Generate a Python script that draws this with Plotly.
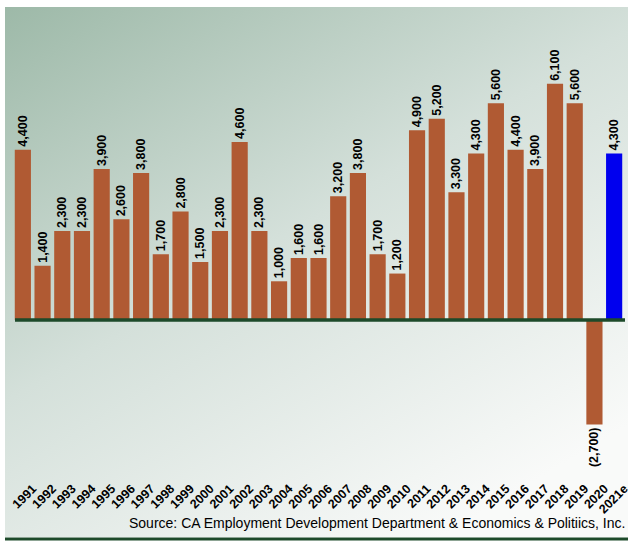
import base64
import plotly.graph_objects as go

years = ["1991", "1992", "1993", "1994", "1995", "1996", "1997", "1998", "1999", "2000",
         "2001", "2002", "2003", "2004", "2005", "2006", "2007", "2008", "2009", "2010",
         "2011", "2012", "2013", "2014", "2015", "2016", "2017", "2018", "2019", "2020",
         "2021e"]
jobs = [4400, 1400, 2300, 2300, 3900, 2600, 3800, 1700, 2800, 1500,
        2300, 4600, 2300, 1000, 1600, 1600, 3200, 3800, 1700, 1200,
        4900, 5200, 3300, 4300, 5600, 4400, 3900, 6100, 5600, -2700,
        4300]
source_note = "Source: CA Employment Development Department & Economics & Politiics, Inc."

W, H = 631, 542
L, R, T, B = 13, 7, 20, 102
plotW, plotH = W - L - R, H - T - B

def px2x(p):
    return (p - L) / plotW

def px2y(p):
    return (H - B - p) / plotH

labels = ["({:,})".format(-v) if v < 0 else "{:,}".format(v) for v in jobs]
colors = ["#0000ee" if y.endswith("e") else "#b05a33" for y in years]

# gradient background as svg
svg = ('<svg xmlns="http://www.w3.org/2000/svg" width="620" height="530" viewBox="0 0 620 530" '
       'preserveAspectRatio="none"><defs><linearGradient id="g" x1="0" y1="0" x2="0.7" y2="1">'
       '<stop offset="0" stop-color="#9db9a8"/><stop offset="0.5" stop-color="#d4e0da"/>'
       '<stop offset="1" stop-color="#f9faf9"/></linearGradient></defs>'
       '<rect width="620" height="530" fill="url(#g)"/></svg>')
bg = "data:image/svg+xml;base64," + base64.b64encode(svg.encode()).decode()

fig = go.Figure()
fig.add_trace(go.Bar(
    x=years, y=jobs,
    marker=dict(color=colors, line=dict(width=0)),
    text=labels, textposition="outside", textangle=-90, constraintext="none",
    textfont=dict(family="Liberation Sans, Arial", size=12.5, color="black", weight="bold"),
    cliponaxis=False, hoverinfo="skip",
))

fig.update_layout(
    width=W, height=H,
    margin=dict(l=L, r=R, t=T, b=B, autoexpand=False),
    paper_bgcolor="white",
    plot_bgcolor="rgba(0,0,0,0)",
    bargap=0.18,
    showlegend=False,
    images=[dict(source=bg, xref="paper", yref="paper",
                 x=px2x(5), y=px2y(7), sizex=px2x(628) - px2x(5), sizey=px2y(7) - px2y(537),
                 xanchor="left", yanchor="top", sizing="stretch", layer="below")],
    shapes=[
        dict(type="line", xref="paper", yref="y", x0=px2x(15), x1=px2x(625), y0=0, y1=0,
             line=dict(color="#1d4a2a", width=3.5)),
        dict(type="line", xref="paper", yref="paper", x0=px2x(5), x1=px2x(628),
             y0=px2y(539), y1=px2y(539), line=dict(color="#1d4a2a", width=3)),
    ],
    annotations=[dict(text=source_note, xref="paper", yref="paper", x=px2x(627), y=px2y(523),
                      xanchor="right", yanchor="middle", showarrow=False,
                      font=dict(family="Liberation Sans, Arial", size=14, color="black"))],
)
fig.update_xaxes(
    automargin=False,
    tickangle=-45, showgrid=False, showline=False, ticks="",
    tickfont=dict(family="Liberation Sans, Arial", size=12.5, color="black", weight="bold"),
    ticklabelstandoff=38, ticklabelshift=10,
)
fig.update_yaxes(automargin=False, range=[-3100, 7750], visible=False,
                 zeroline=False, showgrid=False)

# page body has a default 8px margin, drop it so the chart sits at 0,0
fig.write_html("out.html", config={"displayModeBar": False},
               post_script="document.body.style.margin='0';")
